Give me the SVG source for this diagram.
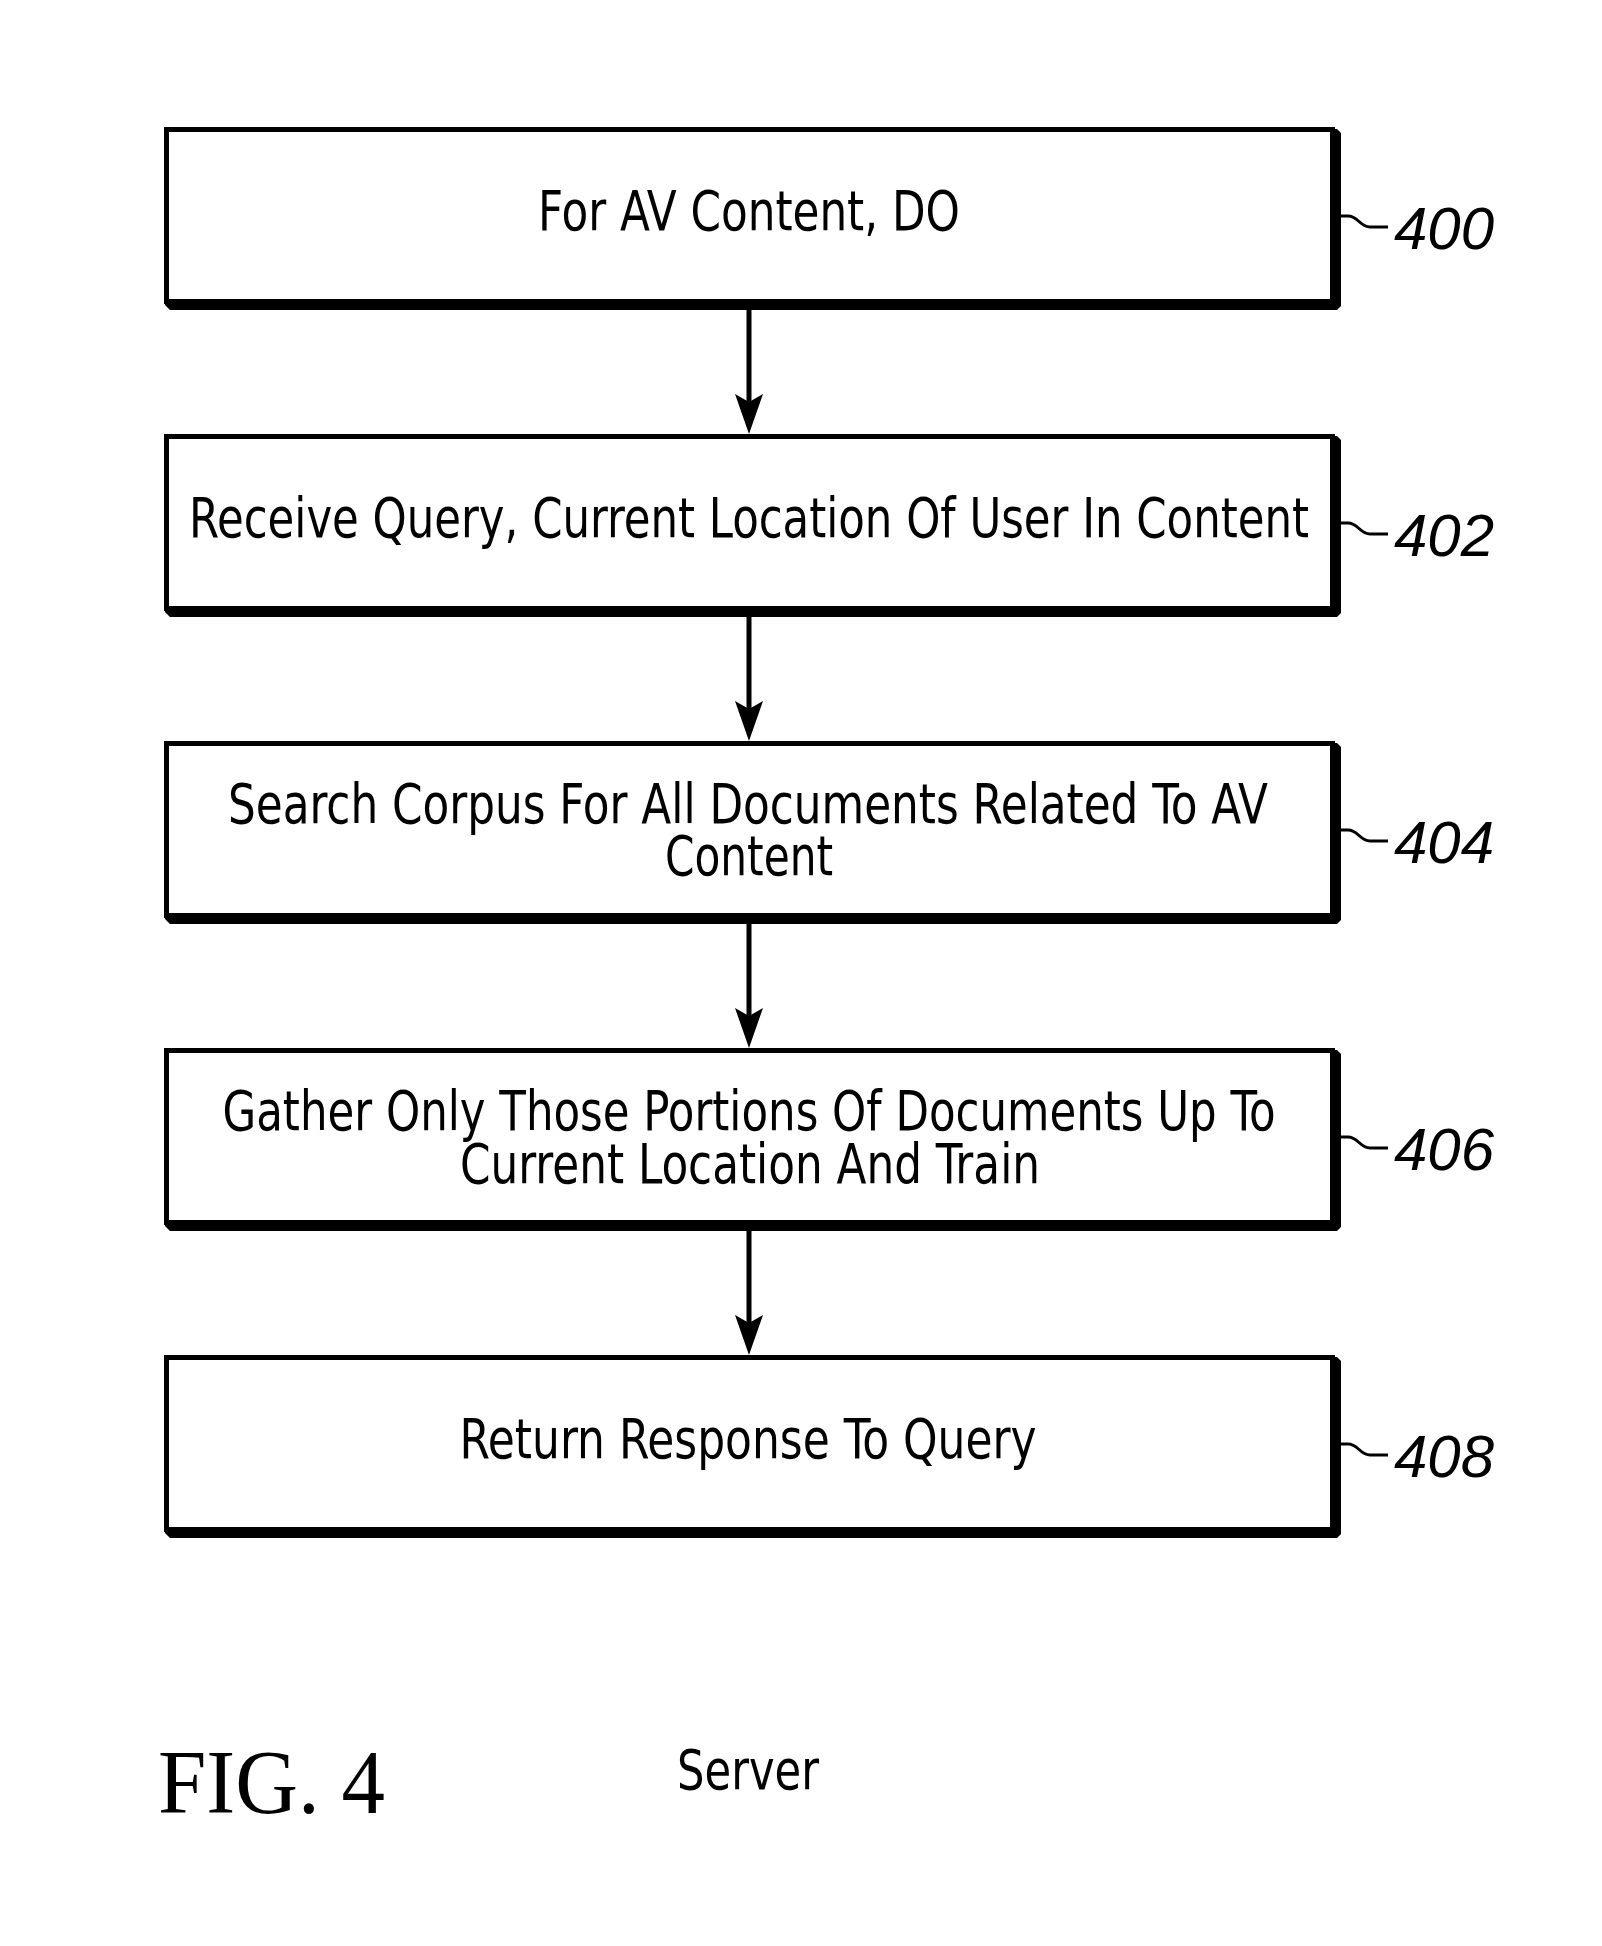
<svg xmlns="http://www.w3.org/2000/svg" width="1602" height="1946" viewBox="0 0 1602 1946">
<style>
.frame{fill:none;stroke:#000;stroke-width:5}
.shadow{fill:#000}
.t{font-family:"DejaVu Sans Condensed","DejaVu Sans",sans-serif;font-stretch:condensed;font-size:56px;fill:#000;text-anchor:middle}
.ref{font-family:"Liberation Sans",Arial,sans-serif;font-style:italic;font-size:60px;fill:#000}
.lead{fill:none;stroke:#000;stroke-width:3}
.conn{fill:none;stroke:#000;stroke-width:5}
.fig{font-family:"Liberation Serif","Times New Roman",serif;font-size:90px;fill:#000}
</style>
<defs>
<marker id="arrow" markerUnits="userSpaceOnUse" viewBox="0 0 40 28" markerWidth="40" markerHeight="28" refX="21" refY="14" orient="auto">
<path d="M0,0 L40,14 L0,28 L8,14 Z" fill="#000"/>
</marker>
<g id="boxshape">
<rect class="frame" x="166.5" y="129.5" width="1166" height="172"/>
<path class="shadow" d="M1330,129 L1337,129 L1341,133 L1341,306 L1337,310 L170,310 L165,305 L165,299 L1330,299 Z"/>
<path class="lead" d="M1341,216 L1348,216 C1358,216 1360,227 1370,227 L1388,227"/>
</g>
</defs>
<rect width="1602" height="1946" fill="#fff"/>
<g id="connectors">
<path class="conn" d="M749,310 L749,415" marker-end="url(#arrow)"/>
<path class="conn" d="M749,617 L749,722" marker-end="url(#arrow)"/>
<path class="conn" d="M749,924 L749,1029" marker-end="url(#arrow)"/>
<path class="conn" d="M749,1231 L749,1336" marker-end="url(#arrow)"/>
</g>
<g id="node400">
<use href="#boxshape"/>
<text class="t" x="749" y="230" textLength="422" lengthAdjust="spacingAndGlyphs">For AV Content, DO</text>
<text class="ref" x="1394" y="249">400</text>
</g>
<g id="node402" transform="translate(0,307)">
<use href="#boxshape"/>
<text class="t" x="749" y="230" textLength="1120" lengthAdjust="spacingAndGlyphs">Receive Query, Current Location Of User In Content</text>
<text class="ref" x="1394" y="249">402</text>
</g>
<g id="node404" transform="translate(0,614)">
<use href="#boxshape"/>
<text class="t" x="748" y="209" textLength="1040" lengthAdjust="spacingAndGlyphs">Search Corpus For All Documents Related To AV</text>
<text class="t" x="749" y="261" textLength="168" lengthAdjust="spacingAndGlyphs">Content</text>
<text class="ref" x="1394" y="249">404</text>
</g>
<g id="node406" transform="translate(0,921)">
<use href="#boxshape"/>
<text class="t" x="749" y="209" textLength="1053" lengthAdjust="spacingAndGlyphs">Gather Only Those Portions Of Documents Up To</text>
<text class="t" x="750" y="262" textLength="580" lengthAdjust="spacingAndGlyphs">Current Location And Train</text>
<text class="ref" x="1394" y="249">406</text>
</g>
<g id="node408" transform="translate(0,1228)">
<use href="#boxshape"/>
<text class="t" x="748" y="230" textLength="577" lengthAdjust="spacingAndGlyphs">Return Response To Query</text>
<text class="ref" x="1394" y="249">408</text>
</g>
<text class="fig" x="158" y="1813" textLength="227" lengthAdjust="spacingAndGlyphs">FIG. 4</text>
<text class="t" x="748" y="1789" textLength="142" lengthAdjust="spacingAndGlyphs">Server</text>
</svg>
